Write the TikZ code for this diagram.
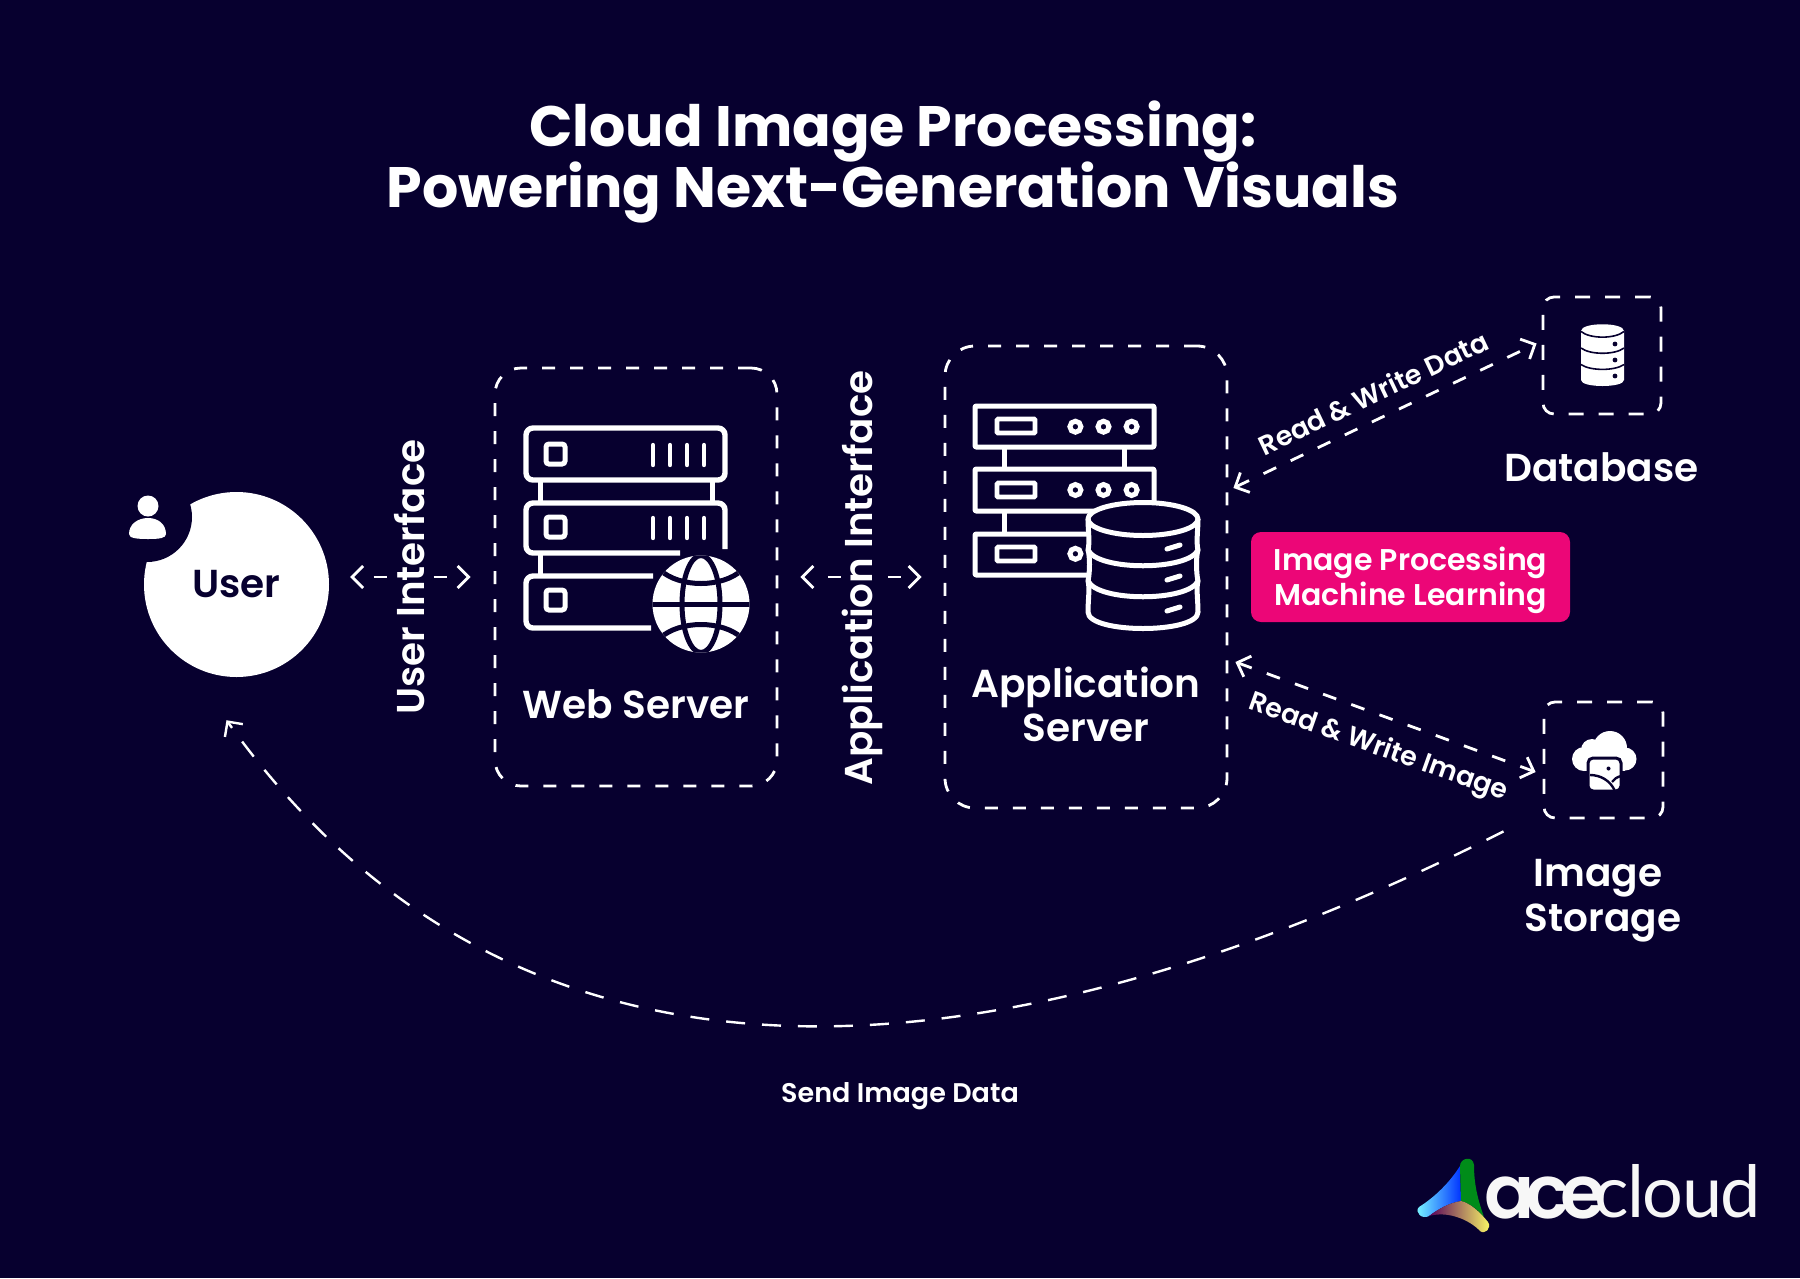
\documentclass[tikz,border=0pt]{standalone}
\usepackage{fontspec}
\setmainfont{Poppins}
\newfontfamily\popb{Poppins Bold}
\newfontfamily\popsb{Poppins SemiBold}
\newfontfamily\popm{Poppins Medium}
\newfontfamily\lato[LetterSpace=-2.0]{Lato}
\usetikzlibrary{arrows.meta,calc}
\definecolor{bgnavy}{HTML}{07002F}
\definecolor{hotpink}{HTML}{EC0677}
\newcommand{\fs}[1]{\fontsize{#1}{#1}\selectfont}
\tikzset{
  x=1pt,y=-1pt,
  dashbox/.style={draw=white,line width=2.8pt,dash pattern=on 13pt off 15pt,rounded corners=26pt,inner sep=0pt},
  smallbox/.style={draw=white,line width=2.8pt,dash pattern=on 15pt off 15pt,rounded corners=11pt,inner sep=0pt},
  conn/.style={draw=white,line width=2.8pt,dash pattern=on 14pt off 16pt,{Straight Barb[length=11pt,width=22pt]}-{Straight Barb[length=11pt,width=22pt]}},
  sideconn/.style={conn,dash pattern=on 13pt off 47pt},
  curveconn/.style={draw=white,line width=2.4pt,dash pattern=on 19pt off 17pt,-{Straight Barb[length=11pt,width=22pt]}},
  heading/.style={text=white,align=center,font=\popb\fs{57},inner sep=0pt},
  lbl/.style={text=white,align=center,font=\popsb\fs{39},inner sep=0pt},
  side/.style={text=white,font=\popsb\fs{38.8},inner sep=0pt,rotate=90},
  small/.style={text=white,font=\popsb\fs{27},inner sep=0pt},
  rack/.style={draw=white,line width=5.4pt,rounded corners=7pt},
  rackb/.style={draw=white,line width=5pt,line join=round,rounded corners=1pt},
}
\begin{document}
\begin{tikzpicture}
\path[use as bounding box,fill=bgnavy] (0,0) rectangle (1800,1278);

% title
\node[heading,anchor=base] (t1) at (893,146) {Cloud Image Processing:};
\node[heading,anchor=base] (t2) at (893,207) {Powering Next-Generation Visuals};

% user
\node[circle,fill=white,minimum size=185pt,inner sep=0pt,text=bgnavy,font=\popsb\fs{39}] (user) at (236.5,584.5) {User};
\fill[bgnavy] (147,517) circle[radius=45];
\fill[white] (148,506) circle[radius=10.5];
\fill[white] (129,534) .. controls (129,524) and (138,518) .. (148,518) .. controls (158,518) and (166,524) .. (166,534) .. controls (166,538) and (160,539) .. (148,539) .. controls (136,539) and (129,538) .. (129,534) -- cycle;

% web server box
\node[dashbox,minimum width=282pt,minimum height=418pt] (web) at (636,577) {};
% racks
\draw[rack] (526,428) rectangle (725,480);
\draw[rack] (680,553) -- (526,553) -- (526,503) -- (725,503) -- (725,549);
\draw[rack] (653,576) -- (526,576) -- (526,628) -- (651,628);
\draw[white,line width=5pt] (540,480) -- (540,503) (712,480) -- (712,503) (540,553) -- (540,576);
\foreach \y in {444,517,590} \draw[white,line width=5pt,rounded corners=3pt] (546,\y) rectangle (565,\y+20);
\foreach \y in {445,518} \foreach \x in {653,670,687,704} \draw[white,line width=4.4pt,line cap=round] (\x,\y) -- (\x,\y+20);
% globe
\begin{scope}
\fill[white] (701,604) circle[radius=48.5];
\clip (701,604) circle[radius=48.5];
\draw[bgnavy,line width=5pt] (652,604) -- (750,604);
\draw[bgnavy,line width=5pt] (701,604) ellipse[x radius=19,y radius=48.5];
\draw[bgnavy,line width=5pt] (660,570) .. controls (680,588) and (722,588) .. (742,570);
\draw[bgnavy,line width=5pt] (660,638) .. controls (680,620) and (722,620) .. (742,638);
\end{scope}
\node[lbl,anchor=base] (weblbl) at (636,718) {Web Server};

% app server box
\node[dashbox,minimum width=282pt,minimum height=462pt,rounded corners=30pt] (app) at (1086,577) {};
\draw[rackb] (975,406) rectangle (1154,447);
\draw[rackb] (975,469) rectangle (1154,511);
\draw[rackb] (975,534) rectangle (1154,575);
\draw[white,line width=5pt] (1004,447) -- (1004,469) (1124,447) -- (1124,469) (1004,511) -- (1004,534);
\foreach \y in {419,483,547} \draw[white,line width=4.6pt,rounded corners=1pt] (997,\y) rectangle (1035,\y+14);
\foreach \y in {426.7,490,553.8} \foreach \x in {1075.4,1103.5,1131.6} \draw[white,line width=5pt] (\x,\y) circle[radius=5.5];
% cylinder
\fill[bgnavy] (1088,519) .. controls (1088,497) and (1198,497) .. (1198,519) -- (1198,612) .. controls (1198,636) and (1088,636) .. (1088,612) -- cycle;
\draw[white,line width=5pt,line join=round] (1143,519) ellipse[x radius=55,y radius=16.5];
\draw[white,line width=5pt] (1088,519) .. controls (1088,530) and (1090,542) .. (1088,550) .. controls (1090,556) and (1090,572) .. (1088,581) .. controls (1090,588) and (1088,600) .. (1088,612) .. controls (1088,634) and (1198,634) .. (1198,612) .. controls (1198,600) and (1196,588) .. (1198,581) .. controls (1196,572) and (1196,556) .. (1198,550) .. controls (1196,542) and (1198,530) .. (1198,519);
\draw[white,line width=5pt] (1088,550) .. controls (1098,571) and (1188,571) .. (1198,550);
\draw[white,line width=5pt] (1088,581) .. controls (1098,602) and (1188,602) .. (1198,581);
\foreach \y in {547,578,609} \draw[white,line width=5pt,line cap=round] (1167,\y+2) -- (1180,\y-2);
\node[lbl,anchor=base] (applbl) at (1086,741) {Application\\[5pt]Server};

% side labels and arrows
\draw[sideconn,dash phase=40pt] ([xshift=21pt,yshift=7.5pt]user.east) -- ([xshift=-23pt]web.west);
\node[side] (ui) at (410,577) {User Interface};
\draw[sideconn,dash phase=36pt] ([xshift=22pt]web.east) -- ([xshift=-22pt]app.west);
\node[side] (ai) at (862.5,578) {Application Interface};

% pink box
\node[fill=hotpink,rounded corners=10pt,minimum width=319pt,minimum height=90pt,inner sep=0pt,text=white,align=center,font=\popsb\fs{30}] (ml) at (1410.5,577) {\rule{0pt}{30pt}Image Processing\\[3pt]Machine Learning};

% database
\node[smallbox,minimum width=118pt,minimum height=117pt] (db) at (1602,355.5) {};
\fill[white] (1581,331) .. controls (1581,322) and (1624,322) .. (1624,331) -- (1624,380) .. controls (1624,388) and (1581,388) .. (1581,380) -- cycle;
\draw[bgnavy,line width=1.6pt] (1581,331.5) .. controls (1590,339) and (1615,339) .. (1624,331.5);
\draw[bgnavy,line width=1.6pt] (1581,348) .. controls (1590,355) and (1615,355) .. (1624,348);
\draw[bgnavy,line width=1.6pt] (1581,364.5) .. controls (1590,371) and (1615,371) .. (1624,364.5);
\foreach \y in {344,360,376} \fill[bgnavy] (1615,\y) circle[radius=2.4];
\node[lbl,anchor=base] (dblbl) at (1601.5,481) {Database};

% image storage
\node[smallbox,minimum width=119pt,minimum height=116pt] (img) at (1603.5,760) {};
\fill[white] (1610,748) circle[radius=17] (1592,750) circle[radius=11] (1584,759) circle[radius=12] (1625,759) circle[radius=11.5];
\fill[white] (1584,745) rectangle (1625,771);
\filldraw[fill=white,draw=bgnavy,line width=3pt,rounded corners=5pt] (1588,758) rectangle (1621,791);
\fill[bgnavy] (1608.5,768.5) circle[radius=2];
\draw[bgnavy,line width=2.4pt] (1590,775) .. controls (1600,775) and (1610,780) .. (1615,791);
\draw[bgnavy,line width=2.4pt] (1612,782) .. controls (1614,779) and (1617,777) .. (1621,776);
\node[lbl,anchor=base] (imglbl) at (1598,886) {Image};
\node[lbl,anchor=base] (imglbl2) at (1603,931) {Storage};

% right connectors
\draw[conn] ([xshift=5pt,yshift=89pt]app.east) -- ([xshift=-5pt,yshift=12pt]db.west);
\draw[conn] ([xshift=7pt,yshift=-85pt]app.east) -- ([xshift=-7pt,yshift=-12pt]img.west);
\node[small,rotate=25.5] (rwd) at (1373,393) {Read \& Write Data};
\node[small,rotate=-19.6] (rwi) at (1378,748) {Read \& Write Image};

% return curve
\draw[curveconn] ([xshift=-100pt,yshift=-12pt]img.south) .. controls (1010,1080) and (525,1138) .. ([xshift=-10pt,yshift=-43pt]user.south);
\node[font=\popsb\fs{27},text=white,inner sep=0pt,anchor=base] (send) at (900,1102) {Send Image Data};

% logo
\shade[left color=cyan!50!white,right color=blue!80!cyan] (1419,1207) .. controls (1435,1197) and (1450,1182) .. (1460,1166) -- (1461,1201) .. controls (1448,1203) and (1437,1210) .. (1429,1216) .. controls (1422,1220) and (1414,1212) .. (1419,1207) -- cycle;
\fill[green!50!black!90!cyan] (1460,1166) .. controls (1460,1158) and (1473,1155) .. (1474,1165) .. controls (1474,1185) and (1478,1200) .. (1484,1217) .. controls (1476,1208) and (1469,1203) .. (1461,1201) -- cycle;
\shade[left color=violet!70!black,middle color=hotpink,right color=yellow!60!white] (1429,1216) .. controls (1437,1210) and (1448,1203) .. (1461,1201) .. controls (1470,1203) and (1480,1212) .. (1488,1222) .. controls (1492,1228) and (1485,1235) .. (1480,1231) .. controls (1472,1222) and (1450,1210) .. (1429,1216) -- cycle;
\node[inner sep=0pt,anchor=base west,text=white!97!black,font=\popsb\fs{74}] (ace) at (1484,1218) {a\kern-9pt c\kern-9pt e};
\node[inner sep=0pt,anchor=base west,text=white!97!black,font=\lato\fs{72}] (cloud) at (1594,1217) {cloud};
\end{tikzpicture}
\end{document}
